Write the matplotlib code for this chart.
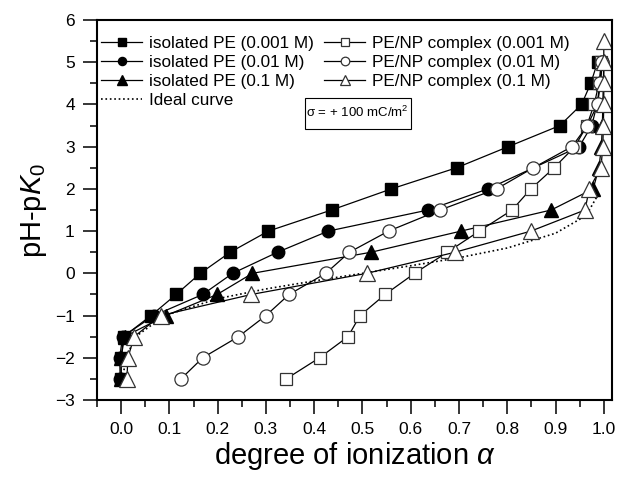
import matplotlib
matplotlib.use("Agg")
import matplotlib.pyplot as plt
from matplotlib.patches import Rectangle
from matplotlib.ticker import MultipleLocator

plt.rcParams['font.family'] = ['Liberation Sans', 'DejaVu Sans']
plt.rcParams['mathtext.fontset'] = 'custom'
plt.rcParams['mathtext.rm'] = 'Liberation Sans'
plt.rcParams['mathtext.it'] = 'Liberation Sans:italic'

# pH - pK0 levels shared by the titration points
levels = [-2.5, -2.0, -1.5, -1.0, -0.5, 0.0, 0.5, 1.0, 1.5, 2.0, 2.5, 3.0, 3.5, 4.0, 4.5, 5.0, 5.5]

# isolated PE, filled markers
iso_001_a = [0.0, 0.0, 0.005, 0.062, 0.114, 0.164, 0.226, 0.305, 0.436, 0.56, 0.695, 0.802, 0.909, 0.954, 0.973, 0.987]
iso_001_y = levels[:16]
iso_01_a = [-0.002, -0.003, 0.003, 0.068, 0.169, 0.231, 0.324, 0.429, 0.636, 0.76, 0.949, 0.975, 0.986, 0.992, 0.996]
iso_01_y = [-2.5, -2.0, -1.5, -1.0, -0.5, 0.0, 0.5, 1.0, 1.5, 2.0, 3.0, 3.5, 4.0, 4.5, 5.0]
iso_1_a = [0.0, 0.0, 0.007, 0.093, 0.199, 0.272, 0.518, 0.704, 0.891, 0.978, 0.99, 0.995, 0.997, 0.998, 0.999, 1.0]
iso_1_y = levels[:16]

# PE/NP complex, open markers
cpx_001_a = [0.342, 0.411, 0.47, 0.495, 0.547, 0.608, 0.676, 0.742, 0.81, 0.849, 0.897, 0.94, 0.965, 0.98, 0.99, 0.995]
cpx_001_y = levels[:16]
cpx_01_a = [0.124, 0.169, 0.243, 0.30, 0.348, 0.424, 0.473, 0.554, 0.661, 0.778, 0.854, 0.934, 0.966, 0.987, 0.993, 0.997]
cpx_01_y = levels[:16]
cpx_1_a = [0.012, 0.014, 0.027, 0.082, 0.27, 0.509, 0.692, 0.849, 0.961, 0.97, 0.994, 0.998, 0.999, 1.0, 1.0, 1.0, 1.0]
cpx_1_y = levels

# ideal curve
ideal_a = [0.003, 0.01, 0.03, 0.09, 0.2, 0.3, 0.4, 0.5, 0.6, 0.7, 0.8, 0.9, 0.95, 0.97, 0.985]
ideal_y = [-2.5, -2.0, -1.5, -1.0, -0.6, -0.37, -0.18, 0.0, 0.18, 0.37, 0.6, 0.95, 1.28, 1.5, 1.8]

xticks = [0.0, 0.1, 0.2, 0.3, 0.4, 0.5, 0.6, 0.7, 0.8, 0.9, 1.0]
yticks = [-3, -2, -1, 0, 1, 2, 3, 4, 5, 6]


def main():
    fig = plt.figure(figsize=(6.19, 4.79), dpi=100)
    ax = fig.add_axes([97 / 619, 1 - 400 / 479, 515 / 619, 380 / 479])

    lw = 0.9
    edge = '#333333'
    ax.plot(iso_001_a, iso_001_y, '-s', color='black', lw=lw, ms=8.5, mfc='black', mec='black',
            label='isolated PE (0.001 M)')
    ax.plot(iso_01_a, iso_01_y, '-o', color='black', lw=lw, ms=9, mfc='black', mec='black',
            label='isolated PE (0.01 M)')
    ax.plot(iso_1_a, iso_1_y, '-^', color='black', lw=lw, ms=10, mfc='black', mec='black',
            label='isolated PE (0.1 M)')
    ax.plot(ideal_a, ideal_y, ':', color='black', lw=1.2, label='Ideal curve')
    ax.plot(cpx_001_a, cpx_001_y, '-s', color='black', lw=lw, ms=9, mfc='white', mec=edge, mew=0.9,
            label='PE/NP complex (0.001 M)')
    ax.plot(cpx_01_a, cpx_01_y, '-o', color='black', lw=lw, ms=9.5, mfc='white', mec=edge, mew=0.9,
            label='PE/NP complex (0.01 M)')
    ax.plot(cpx_1_a, cpx_1_y, '-^', color='black', lw=lw, ms=11, mfc='white', mec=edge, mew=0.9,
            label='PE/NP complex (0.1 M)')

    ax.set_xlim(-0.05, 1.017)
    ax.set_ylim(-3, 6)
    ax.set_xticks(xticks)
    ax.set_xticklabels([f"{t:.1f}" for t in xticks])
    ax.set_yticks(yticks)
    ax.xaxis.set_minor_locator(MultipleLocator(0.05))
    ax.yaxis.set_minor_locator(MultipleLocator(0.5))
    ax.tick_params(which='major', direction='out', length=10, width=1.1, labelsize=12.5, pad=6,
                   top=False, right=False)
    ax.tick_params(which='minor', direction='out', length=5, width=1.1, top=False, right=False)
    for s in ax.spines.values():
        s.set_linewidth(1.5)

    ax.set_xlabel(r'degree of ionization $\alpha$', fontsize=21, labelpad=2)
    ax.set_ylabel(r'pH-p$K_0$', fontsize=21, labelpad=4)

    ax.legend(ncol=2, loc='upper left', bbox_to_anchor=(0.008, 0.957), frameon=False,
              fontsize=12.3, numpoints=1, handlelength=2.4, handletextpad=0.4,
              columnspacing=0.6, labelspacing=0.22, borderpad=0, borderaxespad=0,
              markerscale=0.65)

    ax.add_patch(Rectangle((0.38, 3.43), 0.22, 0.73, fill=False, lw=0.8, color='black'))
    ax.text(0.49, 3.80, '\u03c3 = + 100 mC/m$^2$', fontsize=9.5, ha='center', va='center')

    fig.savefig('out.png', dpi=100)


if __name__ == "__main__":
    main()
